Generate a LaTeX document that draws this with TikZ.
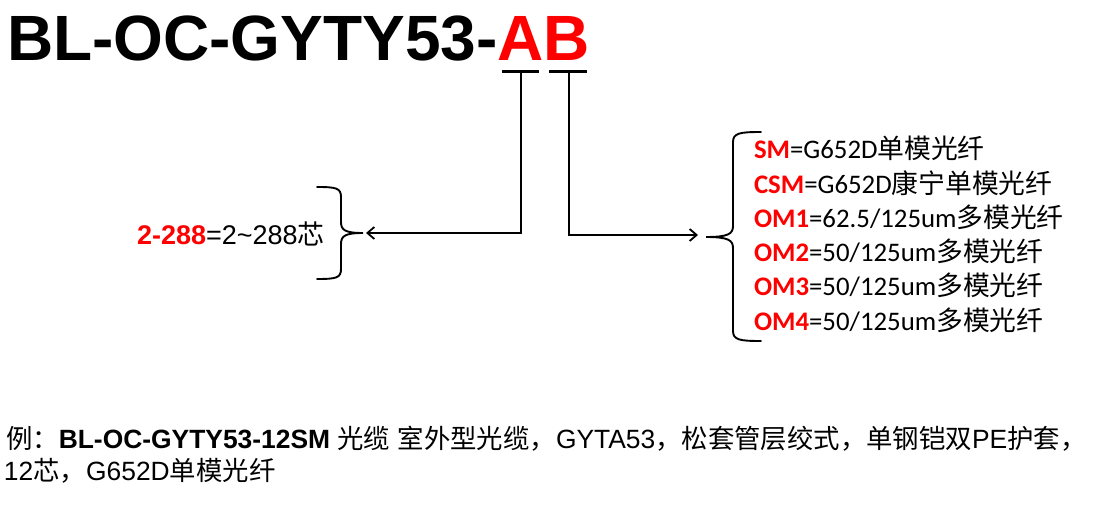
\documentclass[tikz,border=0pt]{standalone}
\usepackage{fontspec}
\setmainfont{Liberation Sans}
\newfontfamily\cjk{Noto Sans CJK SC}
\newfontfamily\carl{Carlito}
\usetikzlibrary{arrows.meta}
\definecolor{tred}{RGB}{255,0,0}
\tikzset{
  txt/.style={inner sep=0pt, outer sep=0pt, anchor=base west},
  conn/.style={line width=1.8pt, -{Straight Barb[length=7pt,width=12pt,line width=1.8pt]}},
  ubar/.style={line width=3.2pt},
  brace/.style={line width=1.9pt, line cap=round},
  ttl/.style={txt, font=\fontsize{64}{70}\selectfont\bfseries},
}
\newcommand{\rk}[1]{{\bfseries\color{tred}#1}}
\begin{document}
\begin{tikzpicture}[x=1pt,y=-1pt]
\useasboundingbox (0,0) rectangle (1099,505);
% title
\node[ttl] (t0) at (7,61) {BL-OC-GYTY53-};
\node[ttl, text=tred] (tA) at (t0.base east) {A};
\node[ttl, text=tred] (tB) at (tA.base east) {B};
% underlines
\coordinate (ua1) at (502,71.5); \coordinate (ua2) at (539,71.5);
\coordinate (ub1) at (549,71.5); \coordinate (ub2) at (587,71.5);
\draw[ubar] (ua1) -- (ua2);
\draw[ubar] (ub1) -- (ub2);
\coordinate (ta) at (521,72);
\coordinate (tb) at (569,72);
% left brace
\coordinate (ltip) at (366,233);
\draw[brace] (317,187) .. controls (336,187) and (341,188) .. (341,197) -- (341,222)
  .. controls (341,230) and (345,233) .. (363,233)
  .. controls (345,233) and (341,236) .. (341,244) -- (341,269)
  .. controls (341,278) and (336,279) .. (317,279);
% right brace
\coordinate (rtip) at (698,235);
\draw[brace] (761,132) .. controls (740,132) and (733,133) .. (733,142) -- (733,226)
  .. controls (733,234) and (728,237) .. (706,237)
  .. controls (728,237) and (733,240) .. (733,248) -- (733,331)
  .. controls (733,340) and (740,341) .. (761,341);
% connectors
\draw[conn] (ta) -- (521,233) -- (ltip);
\draw[conn] (tb) -- (569,235) -- (rtip);
% left text
\node[txt, font=\fontsize{27}{30}\selectfont] (lt) at (137,244) {\rk{2-288}=2\textasciitilde288{\cjk 芯}};
% right text
\begin{scope}[every node/.style={txt, font=\carl\fontsize{26.8}{30}\selectfont}]
\node (r1) at (754,159) {\rk{SM}=G652D{\cjk 单模光纤}};
\node (r2) at (754,193.2) {\rk{CSM}=G652D{\cjk 康宁单模光纤}};
\node (r3) at (754,227.4) {\rk{OM1}=62.5/125um{\cjk 多模光纤}};
\node (r4) at (754,261.6) {\rk{OM2}=50/125um{\cjk 多模光纤}};
\node (r5) at (754,295.8) {\rk{OM3}=50/125um{\cjk 多模光纤}};
\node (r6) at (754,330) {\rk{OM4}=50/125um{\cjk 多模光纤}};
\end{scope}
% bottom text
\node[txt, font=\fontsize{26.4}{30}\selectfont] (b1) at (6,448) {{\cjk 例：}\textbf{BL-OC-GYTY53-12SM} {\cjk 光缆} {\cjk 室外型光缆，}GYTA53{\cjk ，松套管层绞式，单钢铠双}PE{\cjk 护套，}};
\node[txt, font=\fontsize{26.4}{30}\selectfont] (b2) at (4,480) {12{\cjk 芯，}G652D{\cjk 单模光纤}};
\end{tikzpicture}
\end{document}
